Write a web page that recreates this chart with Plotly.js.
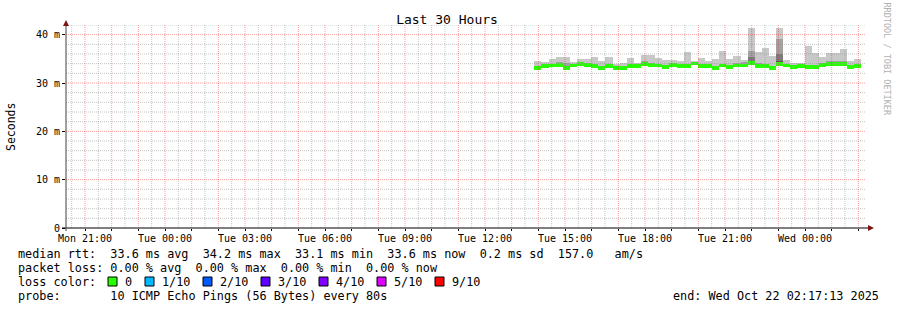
<!DOCTYPE html>
<html><head><meta charset="utf-8">
<script src="https://cdn.plot.ly/plotly-3.0.1.min.js"></script>
<style>html,body{margin:0;padding:0;background:#fff;}#chart{width:897px;height:310px;}</style>
</head><body><div id="chart"></div>
<script>
// ---------------- data ----------------
const chartTitle = 'Last 30 Hours';
const rangeStartUTC = [2025, 9, 20, 20, 17, 13];   // Mon Oct 20 20:17:13
const rangeEndUTC   = [2025, 9, 22, 2, 17, 13];    // Wed Oct 22 02:17:13
const firstBinUTC   = [2025, 9, 21, 13, 51, 0];    // first smoke bin
const binMinutes = 16;

// median RTT per bin (ms)
const medianMs = [33.10,33.44,33.61,33.69,33.18,33.61,33.95,33.69,33.52,33.18,
                  33.44,33.18,33.18,33.44,33.44,33.95,33.69,33.61,33.27,33.69,
                  33.52,33.44,34.03,33.44,33.44,33.18,33.61,33.27,33.61,33.61,
                  34.20,33.52,33.44,33.18,33.86,33.61,33.27,33.52,33.27,33.27,
                  33.69,33.86,33.86,33.86,33.27,33.60];
// smoke: fastest ping per bin (ms)
const minMs = [32.82,33.15,33.30,33.38,32.90,33.32,33.64,33.40,33.22,32.89,
               33.15,32.88,32.90,33.14,33.15,33.64,33.40,33.31,32.97,33.38,
               33.22,33.15,33.72,33.14,33.15,32.88,33.31,32.98,33.30,33.32,
               33.90,33.22,33.15,32.88,33.56,33.31,32.97,33.22,32.98,32.97,
               33.40,33.56,33.56,33.55,32.98,33.30];
// smoke: slowest ping per bin (ms)
const maxMs = [34.6,34.4,35.0,35.4,35.4,34.4,35.0,35.0,35.4,34.6,
               35.4,34.0,34.2,35.2,34.2,35.8,35.8,35.2,34.8,34.8,
               34.6,36.4,34.6,35.2,34.6,35.0,36.6,35.0,35.6,34.8,
               41.4,36.4,37.3,35.6,41.4,34.8,34.2,34.2,37.7,36.2,
               35.4,36.2,36.2,37.1,34.6,35.0];
// smoke: upper edge of 2nd, 3rd and 4th shade (ms)
const shade2Ms = [33.30,33.60,33.80,34.30,34.10,33.80,34.10,33.90,33.70,33.40,
                  34.00,33.40,33.40,33.60,33.90,34.60,33.90,33.80,33.50,34.00,
                  33.70,33.70,34.20,33.60,33.60,33.40,33.80,33.50,34.20,34.30,
                  36.60,34.20,33.70,33.50,39.10,33.80,33.50,33.70,33.50,33.50,
                  34.20,34.60,34.60,34.60,33.50,33.80];
const shade3Ms = [33.10,33.44,33.61,33.69,33.18,33.61,33.95,33.69,33.52,33.18,
                  33.44,33.18,33.18,33.44,33.44,33.95,33.69,33.61,33.27,33.69,
                  33.52,33.44,34.03,33.44,33.44,33.18,33.61,33.27,33.61,33.61,
                  35.40,33.52,33.44,33.18,36.00,33.61,33.27,33.52,33.27,33.27,
                  33.69,33.86,33.86,33.86,33.27,33.60];
const shade4Ms = [33.10,33.44,33.61,33.69,33.18,33.61,33.95,33.69,33.52,33.18,
                  33.44,33.18,33.18,33.44,33.44,33.95,33.69,33.61,33.27,33.69,
                  33.52,33.44,34.03,33.44,33.44,33.18,33.61,33.27,33.61,33.61,
                  34.50,33.52,33.44,33.18,34.60,33.61,33.27,33.52,33.27,33.27,
                  33.69,33.86,33.86,33.86,33.27,33.60];

const yTickVals = [0, 10, 20, 30, 40];
const yTickText = ['0', '10 m', '20 m', '30 m', '40 m'];
const xTickLabels = ['Mon 21:00','Tue 00:00','Tue 03:00','Tue 06:00','Tue 09:00',
                     'Tue 12:00','Tue 15:00','Tue 18:00','Tue 21:00','Wed 00:00'];
const lossLabels = ['0','1/10','2/10','3/10','4/10','5/10','9/10'];
const lossColors = ['#26ff00','#00b8ff','#0059ff','#5e00ff','#7e00ff','#dd00ff','#ff0000'];
const statsLines = [
  'median rtt:  33.6 ms avg  34.2 ms max  33.1 ms min  33.6 ms now  0.2 ms sd  157.0   am/s',
  'packet loss: 0.00 % avg  0.00 % max  0.00 % min  0.00 % now',
  'loss color:',
  'probe:       10 ICMP Echo Pings (56 Bytes) every 80s'
];
const endText = 'end: Wed Oct 22 02:17:13 2025';
const yTitle = 'Seconds';
const watermark = 'RRDTOOL / TOBI OETIKER';

// ---------------- rendering ----------------
const MONO = 'DejaVu Sans Mono, monospace';
const utc = a => Date.UTC(a[0], a[1], a[2], a[3], a[4], a[5]);
const t0 = utc(rangeStartUTC), t1 = utc(rangeEndUTC);
const binMs = binMinutes * 60000;
const firstBin = utc(firstBinUTC);
const centers = medianMs.map((_, i) => firstBin + (i + 0.5) * binMs);

const L = 66, R = 866, T = 25, B = 228;
const W = 897, H = 310;
const px = x => (x - L) / (R - L);
const py = y => (B - y) / (B - T);

const traces = [];
const shades = [[maxMs, '#c8c8c8'], [shade2Ms, '#a2a2a2'], [shade3Ms, '#7c7c7c'], [shade4Ms, '#545454']];
shades.forEach(([hi, col]) => {
  traces.push({
    type: 'bar', x: centers, base: minMs, y: hi.map((v, i) => v - minMs[i]),
    width: binMs, marker: {color: col, line: {width: 0}}, hoverinfo: 'skip'
  });
});
const band = 0.8;
traces.push({
  type: 'bar', x: centers, base: medianMs.map(v => v - band / 2), y: medianMs.map(() => band),
  width: binMs, marker: {color: lossColors[0], line: {width: 0}}, hoverinfo: 'skip'
});

// grid (drawn above the data, rrdtool style)
const shapes = [];
const hour = 3600000;
const firstHour = Math.ceil(t0 / (hour / 2)) * (hour / 2);
for (let t = firstHour; t < t1; t += hour / 2) {
  const major = (t % hour) === 0;
  shapes.push({type: 'line', layer: 'above', xref: 'x', yref: 'paper', x0: t, x1: t, y0: 0, y1: 1,
    line: {color: major ? 'rgba(255,0,0,0.38)' : 'rgba(140,140,140,0.5)', width: 1, dash: '1px,1px'}});
}
for (let v = 2; v <= 42; v += 2) {
  const major = v % 10 === 0;
  shapes.push({type: 'line', layer: 'above', xref: 'paper', yref: 'y', x0: 0, x1: 1, y0: v, y1: v,
    line: {color: major ? 'rgba(255,0,0,0.38)' : 'rgba(140,140,140,0.5)', width: 1, dash: '1px,1px'}});
}
// axes lines and arrows
shapes.push({type: 'line', layer: 'above', xref: 'paper', yref: 'paper', x0: px(62), x1: px(868), y0: py(228), y1: py(228), line: {color: '#000', width: 1}});
shapes.push({type: 'line', layer: 'above', xref: 'paper', yref: 'paper', x0: px(66), x1: px(66), y0: py(231), y1: py(24), line: {color: '#404040', width: 1}});
shapes.push({type: 'path', layer: 'above', xref: 'paper', yref: 'paper',
  path: `M ${px(63)} ${py(26)} L ${px(69)} ${py(26)} L ${px(66)} ${py(20)} Z`, fillcolor: '#7f1414', line: {width: 0}});
shapes.push({type: 'path', layer: 'above', xref: 'paper', yref: 'paper',
  path: `M ${px(868)} ${py(225)} L ${px(868)} ${py(231)} L ${px(874)} ${py(228)} Z`, fillcolor: '#7f1414', line: {width: 0}});

// loss colour boxes
const boxX = [108, 145, 203, 261, 319, 377, 435];
const annotations = [];
lossColors.forEach((c, i) => {
  shapes.push({type: 'rect', xref: 'paper', yref: 'paper', x0: px(boxX[i]), x1: px(boxX[i] + 9),
    y0: py(277), y1: py(286), fillcolor: c, line: {color: '#000', width: 1}});
  annotations.push({xref: 'paper', yref: 'paper', x: px(boxX[i] + 15), y: py(281.5), xanchor: 'left', yanchor: 'middle',
    text: lossLabels[i], showarrow: false, font: {family: MONO, size: 11.8, color: '#000'}});
});

const nb = s => s.replace(/ /g, '\u00a0');
const lineY = [254, 268, 282, 296];
statsLines.forEach((s, i) => {
  annotations.push({xref: 'paper', yref: 'paper', x: px(16), y: py(lineY[i] - 0.5), xanchor: 'left', yanchor: 'middle',
    text: nb(s), showarrow: false, font: {family: MONO, size: 11.8, color: '#000'}});
});
annotations.push({xref: 'paper', yref: 'paper', x: px(881), y: py(295.5), xanchor: 'right', yanchor: 'middle',
  text: nb(endText), showarrow: false, font: {family: MONO, size: 11.8, color: '#000'}});
annotations.push({xref: 'paper', yref: 'paper', x: px(11), y: py(127), xanchor: 'center', yanchor: 'middle',
  text: yTitle, textangle: -90, showarrow: false, font: {family: MONO, size: 11.5, color: '#000'}});
annotations.push({xref: 'paper', yref: 'paper', x: px(886), y: py(59.5), xanchor: 'center', yanchor: 'middle',
  text: nb(watermark), textangle: 90, showarrow: false, font: {family: MONO, size: 8.5, color: '#b0b0b0'}});

const hourTicks = [], hourText = [];
const firstLabel = Date.UTC(2025, 9, 20, 21, 0, 0);
for (let k = 0; firstLabel + k * hour < t1; k++) {
  hourTicks.push(firstLabel + k * hour);
  hourText.push(k % 3 === 0 ? (xTickLabels[k / 3] || '') : '');
}

const layout = {
  width: W, height: H,
  margin: {l: L, r: W - R, t: T, b: H - B, pad: 0},
  paper_bgcolor: '#fff', plot_bgcolor: '#fff',
  barmode: 'overlay', showlegend: false, bargap: 0,
  font: {family: MONO, size: 10, color: '#000'},
  title: {text: chartTitle, font: {family: MONO, size: 13, color: '#000'},
    xref: 'container', yref: 'container', x: 447 / W, y: 1 - 19 / H, xanchor: 'center', yanchor: 'middle'},
  xaxis: {type: 'date', range: [t0, t1], tickmode: 'array', tickvals: hourTicks, ticktext: hourText,
    showgrid: false, zeroline: false, showline: false, ticks: 'outside', ticklen: 2, tickcolor: '#000',
    ticklabelstandoff: -1,
    tickfont: {family: MONO, size: 10, color: '#000'}, fixedrange: true},
  yaxis: {range: [0, 42], tickmode: 'array', tickvals: yTickVals, ticktext: yTickText,
    showgrid: false, zeroline: false, showline: false, ticks: 'outside', ticklen: 3, tickcolor: '#000',
    tickfont: {family: MONO, size: 10, color: '#000'}, fixedrange: true},
  shapes: shapes,
  annotations: annotations
};

Plotly.newPlot('chart', traces, layout, {staticPlot: true, displayModeBar: false});
</script>
</body></html>
